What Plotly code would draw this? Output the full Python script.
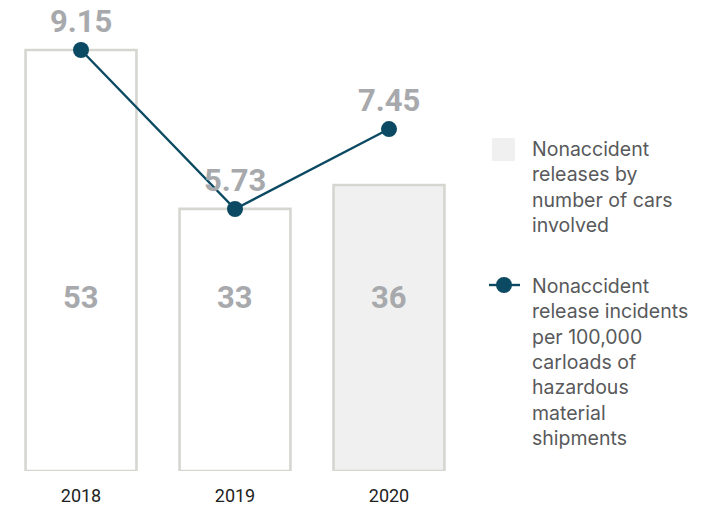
import plotly.graph_objects as go

# Data
years = ["2018", "2019", "2020"]
cars_involved = [53, 33, 36]
incidents_per_100k = [9.15, 5.73, 7.45]
bar_fills = ["#ffffff", "#ffffff", "#f0f0f0"]

W, H = 710, 505
L, R, T, B = 4, 244, 0, 34
PW, PH = W - L - R, H - T - B


def px(x):
    return (x - L) / PW


def py(y):
    return (H - B - y) / PH


fig = go.Figure()

fig.add_trace(go.Bar(
    x=years, y=cars_involved, width=0.72,
    marker=dict(color=bar_fills, line=dict(color="#d6d6d1", width=2.6)),
    hoverinfo="skip", showlegend=False,
))

fig.add_trace(go.Scatter(
    x=years, y=incidents_per_100k, yaxis="y2", mode="lines+markers",
    line=dict(color="#0c4a63", width=2.4),
    marker=dict(color="#0c4a63", size=16),
    hoverinfo="skip", showlegend=False,
))

label_font = dict(family="Roboto", size=31, color="#a7a9ac", weight=700)

annotations = []
for i, n in enumerate(cars_involved):
    annotations.append(dict(x=i, y=21.9, xref="x", yref="y", text=str(n),
                            showarrow=False, font=label_font, yanchor="middle"))
for i, v in enumerate(incidents_per_100k):
    annotations.append(dict(x=i, y=v, xref="x", yref="y2", text=f"{v:.2f}",
                            showarrow=False, font=label_font, yanchor="middle", yshift=29))

legend_font = dict(family="Inter", size=19.5, color="#58595b")
annotations.append(dict(
    x=px(530), y=py(135), xref="paper", yref="paper", xanchor="left", yanchor="top",
    align="left", showarrow=False, font=legend_font,
    text="Nonaccident<br>releases by<br>number of cars<br>involved",
))
annotations.append(dict(
    x=px(530), y=py(272), xref="paper", yref="paper", xanchor="left", yanchor="top",
    align="left", showarrow=False, font=legend_font,
    text="Nonaccident<br>release incidents<br>per 100,000<br>carloads of<br>hazardous<br>material<br>shipments",
))

shapes = [
    dict(type="rect", xref="paper", yref="paper", x0=px(492), x1=px(515), y0=py(161), y1=py(138),
         fillcolor="#f0f0f0", line=dict(width=0)),
    dict(type="line", xref="paper", yref="paper", x0=px(489), x1=px(520), y0=py(285), y1=py(285),
         line=dict(color="#0c4a63", width=2.4)),
    dict(type="circle", xref="paper", yref="paper", x0=px(496), x1=px(512), y0=py(293), y1=py(277),
         fillcolor="#0c4a63", line=dict(width=0)),
]

fig.update_layout(
    width=W, height=H,
    margin=dict(l=L, r=R, t=T, b=B, autoexpand=False),
    paper_bgcolor="#ffffff", plot_bgcolor="#ffffff",
    xaxis=dict(type="category", range=[-0.5, 2.5], showgrid=False, zeroline=False, showline=False,
               ticks="outside", ticklen=8, tickcolor="rgba(0,0,0,0)",
               tickfont=dict(family="Roboto", size=18, color="#222222")),
    yaxis=dict(range=[0, 59.29], visible=False, fixedrange=True),
    yaxis2=dict(range=[0.094, 10.226], overlaying="y", visible=False),
    annotations=annotations, shapes=shapes,
    showlegend=False,
)

fig.write_html("out.html")
